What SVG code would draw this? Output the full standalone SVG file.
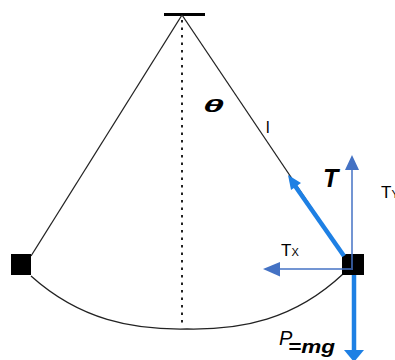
<svg xmlns="http://www.w3.org/2000/svg" width="395" height="360" viewBox="0 0 395 360">
<defs>
<style>
.str{stroke:#222;stroke-width:1.3;fill:none}
.thin{stroke:#4472C4;stroke-width:1.5;fill:none}
.thick{stroke:#1E80E4;stroke-width:4.5;fill:none}
.lbl{font-family:"Liberation Sans",Arial,sans-serif;fill:#000}
</style>
</defs>
<rect width="395" height="360" fill="#fff"/>
<g id="support">
<line x1="164" y1="14.5" x2="205" y2="14.5" stroke="#000" stroke-width="3"/>
<line x1="182" y1="20" x2="182" y2="324" stroke="#222" stroke-width="2" stroke-dasharray="2.5 5"/>
</g>
<g id="strings">
<line class="str" x1="182" y1="15" x2="31" y2="256"/>
<line class="str" x1="182" y1="15" x2="344" y2="256"/>
<path class="str" stroke-width="1.6" d="M31,276 C80,320 133,330 187,329 C241,330 294,320 343,274"/>
</g>
<g id="bob-left"><rect x="11" y="254" width="20" height="21" fill="#000"/></g>
<g id="bob-right"><rect x="342" y="254" width="22" height="21" fill="#000"/></g>
<g id="connectors">
<line class="thin" x1="352" y1="268" x2="352" y2="168"/>
<polygon points="352,155 345,170 359,170" fill="#4472C4"/>
<line class="thin" x1="353" y1="269" x2="278" y2="269"/>
<polygon points="263,269 280,262 280,276.5" fill="#4472C4"/>
<line class="thick" x1="344" y1="256" x2="293" y2="183"/>
<polygon points="288,175 301,183 291,190" fill="#1E80E4"/>
<line class="thick" x1="354" y1="275" x2="354" y2="352"/>
<polygon points="344,350 364,350 354,362" fill="#1E80E4"/>
</g>
<g id="labels">
<text class="lbl" x="203" y="112" font-size="19" font-weight="bold" font-style="italic" textLength="21" lengthAdjust="spacingAndGlyphs">θ</text>
<text class="lbl" x="266" y="133" font-size="16">l</text>
<text class="lbl" x="323" y="187" font-size="25" font-weight="bold" font-style="italic">T</text>
<text class="lbl" x="381" y="198" font-size="17">T<tspan font-size="11">Y</tspan></text>
<text class="lbl" x="281" y="256" font-size="17">T<tspan font-size="11">X</tspan></text>
<text class="lbl" x="279" y="345" font-size="20" font-style="italic">P</text>
<text class="lbl" x="288" y="353" font-size="18" font-weight="bold" font-style="italic" textLength="47" lengthAdjust="spacingAndGlyphs">=mg</text>
</g>
</svg>
